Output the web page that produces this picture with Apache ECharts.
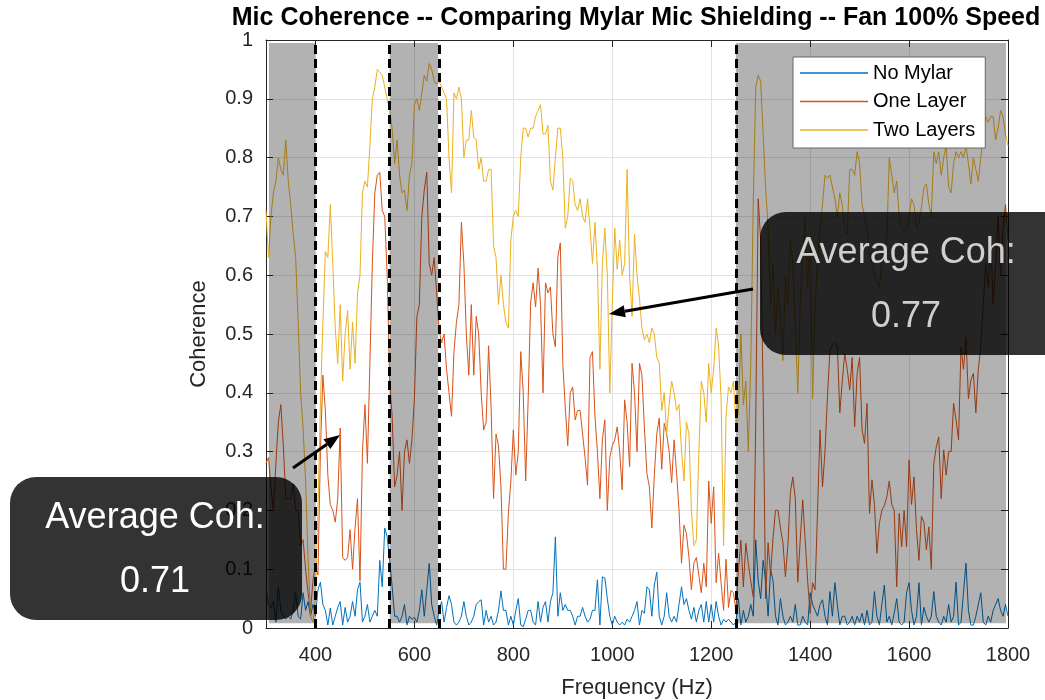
<!DOCTYPE html>
<html><head><meta charset="utf-8">
<script src="https://cdn.jsdelivr.net/npm/echarts@6/dist/echarts.min.js"></script>
<style>html,body{margin:0;padding:0;background:#fff}#c{width:1045px;height:700px}</style>
</head><body><div id="c"></div>
<script>
const frequency = [
300,305,310,315,320,325,330,335,340,345,350,355,360,365,370,375,380,385,390,395,
400,405,410,415,420,425,430,435,440,445,450,455,460,465,470,475,480,485,490,495,
500,505,510,515,520,525,530,535,540,545,550,555,560,565,570,575,580,585,590,595,
600,605,610,615,620,625,630,635,640,645,650,655,660,665,670,675,680,685,690,695,
700,705,710,715,720,725,730,735,740,745,750,755,760,765,770,775,780,785,790,795,
800,805,810,815,820,825,830,835,840,845,850,855,860,865,870,875,880,885,890,895,
900,905,910,915,920,925,930,935,940,945,950,955,960,965,970,975,980,985,990,995,
1000,1005,1010,1015,1020,1025,1030,1035,1040,1045,1050,1055,1060,1065,1070,1075,1080,1085,1090,1095,
1100,1105,1110,1115,1120,1125,1130,1135,1140,1145,1150,1155,1160,1165,1170,1175,1180,1185,1190,1195,
1200,1205,1210,1215,1220,1225,1230,1235,1240,1245,1250,1255,1260,1265,1270,1275,1280,1285,1290,1295,
1300,1305,1310,1315,1320,1325,1330,1335,1340,1345,1350,1355,1360,1365,1370,1375,1380,1385,1390,1395,
1400,1405,1410,1415,1420,1425,1430,1435,1440,1445,1450,1455,1460,1465,1470,1475,1480,1485,1490,1495,
1500,1505,1510,1515,1520,1525,1530,1535,1540,1545,1550,1555,1560,1565,1570,1575,1580,1585,1590,1595,
1600,1605,1610,1615,1620,1625,1630,1635,1640,1645,1650,1655,1660,1665,1670,1675,1680,1685,1690,1695,
1700,1705,1710,1715,1720,1725,1730,1735,1740,1745,1750,1755,1760,1765,1770,1775,1780,1785,1790,1795,
1800];

const noMylar = [
0.07,0.04,0.035,0.045,0.01,0.07,0.03,0.02,0.015,0.02,
0.015,0.03,0.06,0.02,0.015,0.06,0.03,0.045,0.02,0.04,
0.02,0.065,0.078,0.04,0.03,0.005,0.034,0.005,0.02,0.035,
0.045,0.005,0.035,0.01,0.02,0.045,0.02,0.065,0.078,0.01,
0.02,0.04,0.01,0.02,0.03,0.02,0.115,0.07,0.17,0.155,
0.115,0.07,0.02,0.02,0.01,0.02,0.04,0.005,0.02,0.015,
0.018,0.01,0.03,0.065,0.02,0.065,0.11,0.04,0.02,0.005,
0.03,0.045,0.01,0.035,0.055,0.04,0.01,0.005,0.01,0.02,
0.045,0.02,0.005,0.01,0.02,0.04,0.045,0.048,0.005,0.03,
0.01,0.02,0.005,0.01,0.03,0.063,0.03,0.03,0.005,0.02,
0.005,0.03,0.05,0.005,0.002,0.015,0.03,0.03,0.01,0.005,
0.045,0.01,0.035,0.045,0.01,0.045,0.06,0.155,0.02,0.06,
0.03,0.04,0.03,0.03,0.02,0.005,0.02,0.02,0.035,0.02,
0.01,0.015,0.03,0.03,0.082,0.005,0.087,0.085,0.05,0.02,
0.005,0.02,0.01,0.005,0.01,0.005,0.015,0.01,0.02,0.03,
0.045,0.005,0.03,0.025,0.07,0.065,0.02,0.073,0.095,0.02,
0.005,0.02,0.06,0.02,0.01,0.02,0.01,0.04,0.07,0.04,
0.05,0.03,0.015,0.035,0.01,0.03,0.04,0.01,0.045,0.01,
0.04,0.01,0.045,0.02,0.005,0.015,0.01,0.015,0.01,0.005,
0.01,0.05,0.005,0.03,0.01,0.02,0.04,0.02,0.15,0.08,
0.05,0.115,0.08,0.02,0.10,0.08,0.02,0.005,0.05,0.02,
0.005,0.01,0.02,0.01,0.04,0.005,0.005,0.02,0.01,0.005,
0.06,0.04,0.03,0.02,0.04,0.048,0.02,0.005,0.062,0.02,
0.077,0.04,0.005,0.02,0.02,0.005,0.01,0.02,0.005,0.02,
0.01,0.025,0.005,0.03,0.005,0.01,0.062,0.02,0.005,0.04,
0.073,0.01,0.02,0.005,0.025,0.05,0.01,0.005,0.01,0.06,
0.077,0.03,0.005,0.02,0.077,0.005,0.035,0.02,0.01,0.02,
0.062,0.02,0.01,0.005,0.02,0.01,0.04,0.01,0.02,0.078,
0.005,0.01,0.06,0.11,0.03,0.005,0.005,0.02,0.04,0.06,
0.01,0.005,0.02,0.01,0.03,0.04,0.05,0.03,0.02,0.04,
0.02];

const oneLayer = [
0.28,0.29,0.24,0.20,0.28,0.35,0.38,0.31,0.22,0.22,
0.22,0.245,0.20,0.20,0.14,0.15,0.10,0.06,0.03,0.08,
0.11,0.09,0.30,0.43,0.37,0.26,0.21,0.20,0.18,0.22,
0.34,0.12,0.115,0.12,0.167,0.10,0.17,0.22,0.08,0.30,
0.38,0.28,0.45,0.62,0.74,0.77,0.775,0.71,0.70,0.60,
0.42,0.36,0.24,0.26,0.30,0.20,0.30,0.32,0.28,0.32,
0.39,0.53,0.55,0.70,0.745,0.775,0.62,0.60,0.63,0.57,
0.507,0.485,0.50,0.44,0.40,0.36,0.47,0.52,0.55,0.69,
0.62,0.50,0.43,0.55,0.43,0.53,0.50,0.40,0.337,0.35,
0.48,0.376,0.22,0.33,0.31,0.24,0.10,0.10,0.195,0.25,
0.337,0.26,0.30,0.47,0.40,0.25,0.39,0.553,0.587,0.546,
0.612,0.55,0.40,0.587,0.57,0.58,0.50,0.478,0.631,0.655,
0.45,0.375,0.31,0.40,0.41,0.354,0.37,0.37,0.33,0.29,
0.243,0.46,0.47,0.36,0.30,0.22,0.32,0.354,0.20,0.29,
0.31,0.32,0.342,0.30,0.235,0.388,0.35,0.274,0.45,0.40,
0.30,0.45,0.43,0.34,0.263,0.24,0.17,0.26,0.33,0.357,
0.27,0.348,0.33,0.30,0.247,0.32,0.264,0.20,0.11,0.175,
0.16,0.12,0.065,0.11,0.12,0.09,0.06,0.11,0.07,0.25,
0.178,0.24,0.077,0.127,0.077,0.03,0.117,0.035,0.064,0.06,
0.03,0.098,0.149,0.07,0.144,0.11,0.08,0.053,0.35,0.73,
0.66,0.40,0.05,0.145,0.09,0.153,0.20,0.20,0.17,0.145,
0.087,0.14,0.23,0.257,0.22,0.078,0.15,0.218,0.15,0.08,
0.025,0.077,0.065,0.20,0.337,0.24,0.30,0.393,0.473,0.481,
0.485,0.48,0.366,0.42,0.467,0.44,0.405,0.46,0.342,0.433,
0.46,0.337,0.314,0.382,0.195,0.252,0.21,0.127,0.178,0.20,
0.208,0.223,0.25,0.21,0.20,0.07,0.195,0.138,0.20,0.138,
0.286,0.21,0.257,0.167,0.115,0.19,0.18,0.133,0.172,0.10,
0.28,0.308,0.325,0.22,0.303,0.26,0.30,0.30,0.382,0.354,
0.32,0.478,0.44,0.495,0.39,0.422,0.433,0.366,0.44,0.478,
0.55,0.62,0.58,0.66,0.55,0.62,0.70,0.60,0.68,0.72,
0.66];

const twoLayers = [
0.71,0.63,0.70,0.74,0.76,0.80,0.78,0.77,0.83,0.76,
0.72,0.67,0.63,0.52,0.40,0.34,0.25,0.12,0.02,0.01,
0.05,0.20,0.38,0.52,0.64,0.63,0.72,0.62,0.51,0.45,
0.55,0.42,0.50,0.54,0.44,0.52,0.45,0.57,0.60,0.74,
0.76,0.75,0.82,0.90,0.92,0.95,0.945,0.94,0.92,0.90,
0.88,0.85,0.79,0.83,0.77,0.74,0.745,0.71,0.77,0.79,
0.89,0.90,0.88,0.91,0.94,0.93,0.96,0.95,0.93,0.925,
0.93,0.92,0.91,0.90,0.80,0.74,0.91,0.90,0.92,0.90,
0.80,0.83,0.83,0.88,0.835,0.83,0.78,0.80,0.76,0.76,
0.78,0.78,0.65,0.63,0.55,0.60,0.55,0.52,0.51,0.66,
0.70,0.71,0.70,0.80,0.85,0.85,0.835,0.85,0.85,0.87,
0.88,0.89,0.84,0.84,0.855,0.76,0.745,0.80,0.85,0.85,
0.80,0.68,0.70,0.765,0.76,0.72,0.71,0.73,0.70,0.69,
0.73,0.68,0.62,0.69,0.61,0.44,0.62,0.68,0.60,0.40,
0.55,0.68,0.61,0.66,0.60,0.62,0.78,0.60,0.53,0.67,
0.60,0.56,0.51,0.49,0.50,0.485,0.51,0.50,0.46,0.45,
0.37,0.40,0.33,0.38,0.42,0.40,0.37,0.38,0.30,0.25,
0.35,0.33,0.20,0.14,0.15,0.30,0.42,0.40,0.35,0.45,
0.40,0.44,0.51,0.48,0.39,0.14,0.36,0.41,0.40,0.42,
0.34,0.37,0.50,0.38,0.42,0.30,0.45,0.72,0.92,0.94,
0.93,0.84,0.75,0.68,0.55,0.62,0.50,0.58,0.52,0.455,
0.60,0.55,0.66,0.62,0.52,0.40,0.55,0.64,0.70,0.58,
0.66,0.39,0.55,0.62,0.68,0.72,0.77,0.765,0.77,0.75,
0.73,0.70,0.74,0.72,0.68,0.67,0.78,0.78,0.77,0.81,
0.79,0.72,0.70,0.68,0.64,0.62,0.60,0.587,0.58,0.62,
0.643,0.66,0.80,0.77,0.74,0.76,0.70,0.68,0.675,0.68,
0.70,0.73,0.72,0.68,0.69,0.715,0.75,0.755,0.72,0.70,
0.81,0.79,0.81,0.77,0.80,0.82,0.75,0.74,0.79,0.81,
0.80,0.81,0.80,0.82,0.79,0.755,0.80,0.78,0.76,0.80,
0.84,0.87,0.86,0.87,0.87,0.83,0.85,0.88,0.87,0.84,
0.82];

const seriesNames = ['No Mylar', 'One Layer', 'Two Layers'];
const seriesColors = ['#0072BD', '#D95319', '#EDB120'];
const xTicks = [400, 600, 800, 1000, 1200, 1400, 1600, 1800];
const shadedBands = [[306, 400], [550, 648], [1250, 1796]];
const bandYRange = [0.008, 0.995];
const dashedFreqs = [400, 550, 650, 1250];
const titleText = 'Mic Coherence -- Comparing Mylar Mic Shielding -- Fan 100% Speed';
const avgLeft = ['Average Coh:', '0.71'];
const avgRight = ['Average Coh:', '0.77'];

const FONT = '"Liberation Sans", Arial, Helvetica, sans-serif';
const AX = '#262626';

function pairs(vals) { return frequency.map((f, i) => [f, vals[i]]); }

const chart = echarts.init(document.getElementById('c'), null, {renderer: 'canvas'});

const lineSeries = [noMylar, oneLayer, twoLayers].map((vals, k) => ({
  name: seriesNames[k], type: 'line', data: pairs(vals),
  symbol: 'none', showSymbol: false, z: 2,
  lineStyle: {width: 1, color: seriesColors[k]}, itemStyle: {color: seriesColors[k]},
  emphasis: {disabled: true}, silent: true
}));

lineSeries[2].markLine = {
  silent: true, symbol: ['none', 'none'], z: 5, animation: false,
  label: {show: false},
  lineStyle: {color: '#000', width: 3, type: [9, 5]},
  emphasis: {disabled: true},
  data: dashedFreqs.map(f => ({xAxis: f}))
};

const bandSeries = {
  type: 'custom', name: 'bands', z: 3, silent: true,
  data: shadedBands.map(b => [b[0], b[1], bandYRange[0], bandYRange[1]]),
  encode: {x: [0, 1], y: [2, 3]},
  renderItem: function (params, api) {
    const a = api.coord([api.value(0), api.value(3)]);
    const b = api.coord([api.value(1), api.value(2)]);
    return {type: 'rect', shape: {x: a[0], y: a[1], width: b[0] - a[0], height: b[1] - a[1]},
            style: {fill: 'rgba(0,0,0,0.3)'}};
  }
};

function arrow(x0, y0, x1, y1) {
  const dx = x1 - x0, dy = y1 - y0, L = Math.hypot(dx, dy);
  const ux = dx / L, uy = dy / L, hl = 16, hw = 6;
  const bx = x1 - hl * ux, by = y1 - hl * uy;
  const px = -uy, py = ux;
  return [
    {type: 'line', z: 100, shape: {x1: x0, y1: y0, x2: bx, y2: by}, style: {stroke: '#000', lineWidth: 3}},
    {type: 'polygon', z: 100, shape: {points: [[x1, y1], [bx + hw * px, by + hw * py], [bx - hw * px, by - hw * py]]}, style: {fill: '#000'}}
  ];
}

function box(x, y, w, h, lines, cx, color) {
  return [
    {type: 'rect', z: 100, shape: {x: x, y: y, width: w, height: h, r: 26}, style: {fill: 'rgba(0,0,0,0.8)'}},
    {type: 'text', z: 101, style: {text: lines[0], x: cx, y: y + 41, align: 'center', verticalAlign: 'middle', font: '36px ' + FONT, fill: color}},
    {type: 'text', z: 101, style: {text: lines[1], x: cx, y: y + 105, align: 'center', verticalAlign: 'middle', font: '36px ' + FONT, fill: color}}
  ];
}

const option = {
  animation: false,
  backgroundColor: '#fff',
  grid: {left: 266, right: 37, top: 40, bottom: 72, containLabel: false, outerBoundsMode: 'none'},
  xAxis: [{
    type: 'value', min: 300, max: 1800, position: 'bottom',
    axisLine: {show: true, onZero: false, lineStyle: {color: AX, width: 1}},
    axisTick: {show: true, inside: true, length: 7, customValues: xTicks, lineStyle: {color: AX}},
    axisLabel: {customValues: xTicks, fontSize: 20, color: AX, margin: 17, fontFamily: FONT,
      formatter: v => String(v)},
    splitLine: {show: true, lineStyle: {color: '#e2e2e2', width: 1}},
    name: 'Frequency (Hz)', nameLocation: 'middle', nameGap: 49,
    nameTextStyle: {fontSize: 22, color: AX, fontFamily: FONT}
  }, {
    type: 'value', min: 300, max: 1800, position: 'top',
    axisLine: {show: true, onZero: false, lineStyle: {color: AX, width: 1}},
    axisTick: {show: true, inside: true, length: 7, customValues: xTicks, lineStyle: {color: AX}},
    axisLabel: {show: false}, splitLine: {show: false}
  }],
  yAxis: [{
    type: 'value', min: 0, max: 1, interval: 0.1, position: 'left',
    axisLine: {show: true, onZero: false, lineStyle: {color: AX, width: 1}},
    axisTick: {show: true, inside: true, length: 7, lineStyle: {color: AX}},
    axisLabel: {fontSize: 20, color: AX, margin: 13, fontFamily: FONT,
      formatter: v => String(Math.round(v * 10) / 10)},
    splitLine: {show: true, lineStyle: {color: '#e2e2e2', width: 1}},
    name: 'Coherence', nameLocation: 'middle', nameGap: 56,
    nameTextStyle: {fontSize: 22, color: AX, fontFamily: FONT}
  }, {
    type: 'value', min: 0, max: 1, interval: 0.1, position: 'right',
    axisLine: {show: true, onZero: false, lineStyle: {color: AX, width: 1}},
    axisTick: {show: true, inside: true, length: 7, lineStyle: {color: AX}},
    axisLabel: {show: false}, splitLine: {show: false}
  }],
  legend: {
    data: seriesNames, orient: 'vertical', left: 793, top: 57,
    icon: 'rect', itemWidth: 68, itemHeight: 1.5, itemGap: 8.5,
    padding: [6, 10, 8, 7],
    backgroundColor: '#fff', borderColor: '#666', borderWidth: 1, borderRadius: 0,
    textStyle: {fontSize: 20, color: '#000', fontFamily: FONT, lineHeight: 20},
    selectedMode: false, z: 20
  },
  graphic: [].concat(
    [{type: 'text', z: 100, style: {text: titleText, x: 636, y: 18, align: 'center', verticalAlign: 'middle', font: 'bold 25px ' + FONT, fill: '#000'}}],
    box(10, 477, 292, 143, avgLeft, 155, '#ffffff'),
    box(760, 212, 320, 143, avgRight, 906, '#cfcfcf'),
    arrow(293, 468, 340, 435),
    arrow(753, 289, 609, 314)
  ),
  series: lineSeries.concat([bandSeries])
};

chart.setOption(option);
</script>
</body></html>
